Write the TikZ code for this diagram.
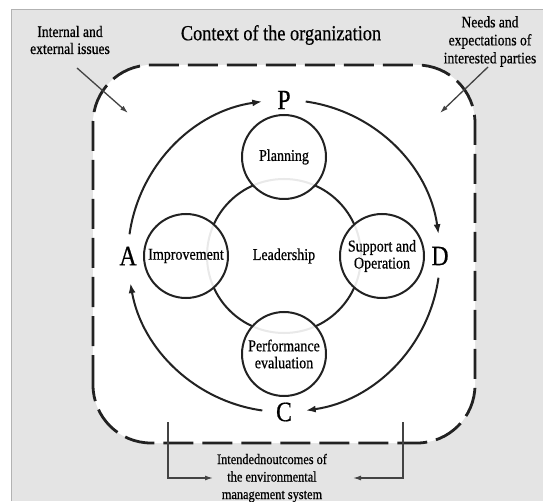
\documentclass[tikz,border=0pt]{standalone}
\usepackage{fontspec}
\setmainfont{Liberation Serif}[FakeStretch=0.85,FakeBold=0.6]
\usetikzlibrary{arrows.meta,positioning,calc}
\definecolor{ink}{HTML}{222222}
\definecolor{panel}{HTML}{E4E4E4}
\newcommand{\fs}[2]{\fontsize{#1}{#2}\selectfont}

\begin{document}
\begin{tikzpicture}[x=1pt,y=1pt,
  stage/.style={circle,draw=ink,line width=2pt,fill=white,fill opacity=0.9,text opacity=1,
    minimum size=84pt,inner sep=0pt,align=center,font=\fs{16.5}{17}},
  pdca/.style={font=\fs{28}{28},inner sep=1pt},
  note/.style={align=center,font=\fs{16}{17}},
  pdcaarc/.style={ink,line width=2pt,-{Latex[length=10pt,width=7pt]}},
  feed/.style={ink!85,line width=1.3pt,-{Latex[length=8pt,width=5pt]}}]
\useasboundingbox (0,0) rectangle (543,501);
% panel and context frame
\fill[white] (0,0) rectangle (543,501);
\fill[panel] (11,0) rectangle (543,492);
\draw[gray!60,line width=0.8pt] (11,0) |- (543,492);
\draw[ink,line width=2.8pt,fill=white,rounded corners=58pt,dash pattern=on 30pt off 9pt] (93,58) rectangle (475,436);
\node[note,font=\fs{21.5}{24}] (ctx) at (281,466) {Context of the organization};
\node[note] (iss) at (70,461) {Internal and\\external issues};
\node[note,font=\fs{16}{18}] (need) at (490,459.5) {Needs and\\expectations of\\interested parties};
\coordinate (issA) at (77,433);  \coordinate (issB) at (128,388);
\coordinate (needA) at (488,434); \coordinate (needB) at (440,388);
\draw[feed] (issA) -- (issB);
\draw[feed] (needA) -- (needB);
% leadership and the four stages
\coordinate (ctr) at (284,245);
\node[circle,draw=ink,line width=2pt,minimum size=154pt,font=\fs{16.5}{17}] (lead) at (ctr) {Leadership};
\node[stage] (plan) at ($(ctr)+(0,99)$) {Planning};
\node[stage] (supp) at ($(ctr)+(98,0)$) {Support and\\Operation};
\node[stage] (perf) at ($(ctr)+(0,-98)$) {Performance\\evaluation};
\node[stage] (impr) at ($(ctr)+(-98,0)$) {Improvement};
% PDCA ring
\foreach \l/\a in {P/90,D/0,C/-90,A/180}
  \node[pdca] (l\l) at ($(ctr)+(\a:156)$) {\l};
\foreach \s/\e in {172/98,82/8,-8/-82,-98/-170}
  \draw[pdcaarc] ($(ctr)+(\s:156)$) arc[start angle=\s,end angle=\e,radius=156];
% intended outcomes
\node[note,font=\fs{14.5}{17.5}] (out) at (272,23) {Intendednoutcomes of\\the environmental\\management system};
\coordinate (outL) at (168,79);  \coordinate (tipL) at (213,23);
\coordinate (outR) at (403,79);  \coordinate (tipR) at (353,23);
\draw[feed] (outL) |- (tipL);
\draw[feed] (outR) |- (tipR);
\end{tikzpicture}
\end{document}
